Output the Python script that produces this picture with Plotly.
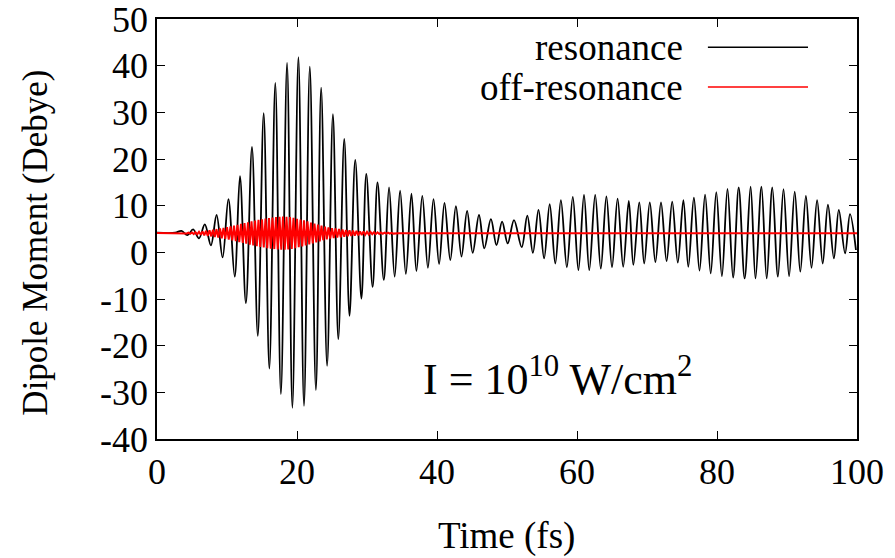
import plotly.graph_objects as go

# Resonant drive: times (fs) and dipole values (Debye) at each turning point
res_t = [0.0, 2.6,
         3.49, 4.35, 5.16, 6.0, 6.83, 7.7, 8.51, 9.37, 10.2, 11.1,
         11.85, 12.7, 13.57, 14.4, 15.24, 16.05, 16.9, 17.7, 18.58, 19.34,
         20.2, 21.0, 21.83, 22.7, 23.45, 24.3, 25.13, 25.9, 26.75, 27.5,
         28.32, 29.2, 29.9, 30.8, 31.5, 32.4, 33.15, 33.95, 34.73, 35.55,
         36.35, 37.06, 37.9, 38.7, 39.5, 40.3, 41.07, 41.9, 42.7, 43.5,
         44.3, 45.1, 46.0, 46.76, 47.7, 48.5, 49.3, 50.1, 51.0, 52.1,
         52.9, 53.7, 54.5, 55.3, 56.1, 56.9, 57.7, 58.55, 59.4, 60.2,
         61.0, 61.75, 62.6, 63.4, 64.2, 65.0, 65.8, 66.6, 67.4, 68.05,
         68.9, 69.6, 70.4, 71.2, 72.0, 72.8, 73.6, 74.4, 75.2, 75.9,
         76.7, 77.5, 78.3, 79.1, 79.9, 80.7, 81.5, 82.3, 83.1, 83.95,
         84.8, 85.5, 86.35, 87.1, 87.9, 88.7, 89.5, 90.3, 91.1, 91.9,
         92.7, 93.5, 94.3, 95.1, 95.85, 96.7, 97.4, 98.3, 99.0, 99.85]
res_d = [4.2, 4.2,
         4.6, 3.7, 4.9, 3.0, 6.0, 1.5, 8.0, -1.1, 11.4, -5.2,
         16.3, -10.9, 22.6, -17.9, 29.8, -24.9, 36.3, -30.4, 40.6, -33.3,
         41.8, -32.9, 39.8, -29.5, 35.3, -24.3, 29.6, -18.6, 24.3, -13.6,
         19.8, -9.9, 16.8, -7.4, 15.0, -5.9, 13.9, -5.2, 13.2, -4.6,
         12.6, -4.0, 12.1, -3.3, 11.4, -2.5, 10.6, -1.65, 9.9, -0.9,
         8.9, -0.1, 8.0, 0.85, 7.1, 1.55, 6.6, 1.9, 6.9, 1.1,
         7.85, -0.1, 9.1, -1.3, 10.3, -2.4, 11.2, -3.2, 11.9, -3.8,
         12.3, -3.8, 12.3, -3.5, 12.0, -3.2, 11.5, -3.1, 11.0, -2.7,
         10.7, -2.4, 10.7, -2.1, 10.7, -1.9, 10.85, -2.2, 11.2, -3.1,
         11.7, -3.9, 12.35, -4.5, 12.9, -5.1, 13.6, -5.4, 13.9, -5.6,
         14.05, -5.6, 14.05, -5.6, 13.9, -5.2, 13.55, -5.1, 13.0, -4.15,
         12.1, -3.3, 11.2, -2.4, 10.2, -1.3, 9.1, -0.2, 8.2, 0.5]

# Off-resonant drive: upper and lower turning points of the fast oscillation
off_peak_t = [4.0, 4.5, 5.0, 5.5, 6.0, 6.5, 7.0, 7.5, 8.0, 8.5,
              9.0, 9.5, 10.0, 10.5, 11.0, 11.5, 12.0, 12.5, 13.0, 13.5,
              14.0, 14.5, 15.0, 15.5, 16.0, 16.5, 17.0, 17.5, 18.0, 18.5,
              19.0, 19.5, 20.0, 20.5, 21.0, 21.5, 22.0, 22.5, 23.0, 23.5,
              24.0, 24.5, 25.0, 25.5, 26.0, 26.5, 27.0, 27.5, 28.0, 28.5,
              29.0, 29.5, 30.0, 30.5, 31.0, 31.5, 32.0, 32.5, 33.0, 33.5]
off_peak_d = [4.15, 4.2, 4.25, 4.32, 4.4, 4.5, 4.6, 4.72, 4.85, 4.98,
              5.1, 5.25, 5.4, 5.55, 5.7, 5.9, 6.1, 6.28, 6.45, 6.62,
              6.8, 6.95, 7.1, 7.22, 7.35, 7.45, 7.55, 7.6, 7.65, 7.6,
              7.55, 7.38, 7.2, 7.02, 6.85, 6.62, 6.4, 6.18, 5.95, 5.72,
              5.5, 5.35, 5.2, 5.1, 5.0, 4.9, 4.8, 4.72, 4.65, 4.58,
              4.5, 4.45, 4.4, 4.35, 4.3, 4.28, 4.25, 4.22, 4.2, 4.19]
off_trough_t = [4.25, 4.75, 5.25, 5.75, 6.25, 6.75, 7.25, 7.75, 8.25, 8.75,
                9.25, 9.75, 10.25, 10.75, 11.25, 11.75, 12.25, 12.75, 13.25, 13.75,
                14.25, 14.75, 15.25, 15.75, 16.25, 16.75, 17.25, 17.75, 18.25, 18.75,
                19.25, 19.75, 20.25, 20.75, 21.25, 21.75, 22.25, 22.75, 23.25, 23.75,
                24.25, 24.75, 25.25, 25.75, 26.25, 26.75, 27.25, 27.75, 28.25, 28.75,
                29.25, 29.75, 30.25, 30.75, 31.25, 31.75, 32.25, 32.75, 33.25, 33.75]
off_trough_d = [4.03, 3.98, 3.92, 3.84, 3.75, 3.65, 3.54, 3.42, 3.29, 3.16,
                3.02, 2.88, 2.72, 2.58, 2.4, 2.2, 2.01, 1.84, 1.66, 1.49,
                1.32, 1.18, 1.04, 0.91, 0.8, 0.7, 0.62, 0.58, 0.58, 0.62,
                0.74, 0.91, 1.09, 1.26, 1.46, 1.69, 1.91, 2.14, 2.36, 2.59,
                2.78, 2.92, 3.05, 3.15, 3.25, 3.35, 3.44, 3.51, 3.59, 3.66,
                3.72, 3.78, 3.82, 3.88, 3.91, 3.94, 3.96, 3.99, 4.0, 4.01]
off_start = (0.0, 4.15)
off_end = [(34.5, 4.1), (100.0, 4.1)]

series_names = ["resonance", "off-resonance"]
series_colors = ["#000000", "#ff0000"]

x_ticks = [0, 20, 40, 60, 80, 100]
y_ticks = [-40, -30, -20, -10, 0, 10, 20, 30, 40, 50]

# interleave upper/lower turning points of the off-resonant trace
off_t = [off_start[0]]
off_d = [off_start[1]]
for tp, dp, tt, dt in zip(off_peak_t, off_peak_d, off_trough_t, off_trough_d):
    off_t += [tp, tt]
    off_d += [dp, dt]
for t, d in off_end:
    off_t.append(t)
    off_d.append(d)

FONT = "Liberation Serif"
FS = 36


def txt(size):
    return dict(family=FONT, size=size, color="black")


fig = go.Figure()
fig.add_trace(go.Scatter(x=res_t, y=res_d, mode="lines", name=series_names[0],
                         line=dict(color=series_colors[0], width=1.8,
                                   shape="spline", smoothing=1.0)))
fig.add_trace(go.Scatter(x=off_t, y=off_d, mode="lines", name=series_names[1],
                         line=dict(color=series_colors[1], width=2.0)))

axis_common = dict(showline=True, linecolor="black", linewidth=1.5, mirror="ticks",
                   ticks="inside", ticklen=8, tickwidth=1, tickcolor="black",
                   showgrid=False, zeroline=False, automargin=False,
                   ticklabeloverflow="allow", tickfont=txt(FS))

fig.update_xaxes(range=[0, 100], tickvals=x_ticks, ticktext=[str(v) for v in x_ticks],
                 **axis_common)
fig.update_yaxes(range=[-40, 50], tickvals=y_ticks, ticktext=[str(v) for v in y_ticks],
                 **axis_common)

annotations = [
    # axis titles
    dict(xref="paper", yref="paper", x=-0.174, y=0.468, text="Dipole Moment (Debye)",
         textangle=-90, xanchor="center", yanchor="middle", showarrow=False,
         font=txt(35)),
    dict(xref="paper", yref="paper", x=0.499, y=-0.232, text="Time (fs)",
         xanchor="center", yanchor="middle", showarrow=False, font=txt(37)),
    # field intensity label
    dict(xref="paper", yref="paper", x=0.572, y=0.150,
         text="I = 10<sup>10</sup> W/cm<sup>2</sup>",
         xanchor="center", yanchor="middle", showarrow=False, font=txt(44)),
]

# key: right-aligned labels with line samples to their right
key_rows = [0.933, 0.838]
shapes = []
for name, color, yy in zip(series_names, series_colors, key_rows):
    annotations.append(dict(xref="paper", yref="paper", x=0.754, y=yy, text=name,
                            xanchor="right", yanchor="middle", showarrow=False,
                            font=txt(37)))
    shapes.append(dict(type="line", xref="paper", yref="paper", x0=0.787, x1=0.930,
                       y0=yy, y1=yy, line=dict(color=color, width=1.5)))

fig.update_layout(width=895, height=558, showlegend=False,
                  paper_bgcolor="white", plot_bgcolor="white",
                  margin=dict(l=157, r=38, t=19, b=119),
                  annotations=annotations, shapes=shapes)

fig.write_html("out.html")
